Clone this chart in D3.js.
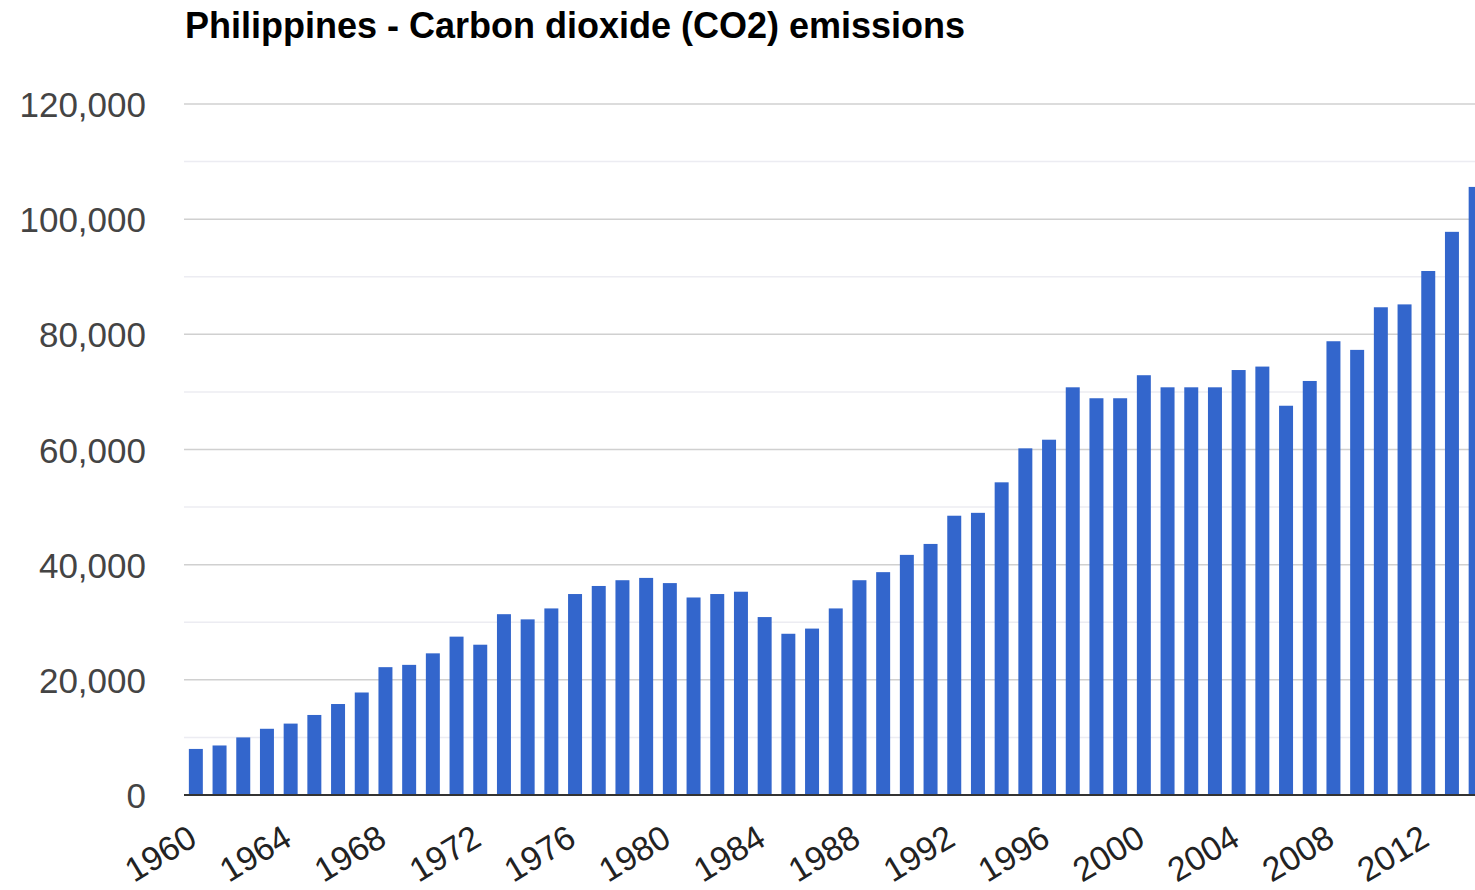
<!DOCTYPE html>
<html>
<head>
<meta charset="utf-8">
<script src="https://cdn.jsdelivr.net/npm/d3@7"></script>
<style>
  html, body { margin: 0; padding: 0; background: #fff; overflow: hidden; }
  svg { display: block; font-family: "Liberation Sans", Arial, Helvetica, sans-serif; }
</style>
</head>
<body>
<svg id="chart" width="1475" height="890"></svg>
<script>
// Philippines CO2 emissions (kt), 1960–2014
const years = d3.range(1960, 2015);
const emissions = [
  8000, 8600, 10000, 11500, 12400, 13900, 15800, 17800, 22200, 22600,
  24600, 27500, 26100, 31400, 30500, 32400, 34900, 36300, 37300, 37700,
  36800, 34300, 34900, 35300, 30900, 28000, 28900, 32400, 37300, 38700,
  41700, 43600, 48500, 49000, 54300, 60200, 61700, 70800, 68900, 68900,
  72900, 70800, 70800, 70800, 73800, 74400, 67600, 71900, 78800, 77300,
  84700, 85200, 91000, 97800, 105600
];
const yTicks = [0, 20000, 40000, 60000, 80000, 100000, 120000];
const yMinorTicks = [10000, 30000, 50000, 70000, 90000, 110000];
const xTickYears = d3.range(1960, 2015, 4);
const title = "Philippines - Carbon dioxide (CO2) emissions";

const data = years.map((y, i) => ({ year: y, value: emissions[i] }));

const svg = d3.select("#chart");
const plotLeft = 184, plotRight = 1475, plotTop = 104, plotBottom = 795;
const step = 23.7;

const x = d3.scaleBand()
  .domain(years)
  .range([plotLeft, plotLeft + step * years.length])
  .paddingInner(0.41)
  .paddingOuter(0.205);

const y = d3.scaleLinear()
  .domain([0, 120000])
  .range([plotBottom, plotTop]);

// Minor gridlines
svg.append("g")
  .selectAll("line")
  .data(yMinorTicks)
  .join("line")
  .attr("x1", plotLeft).attr("x2", plotRight)
  .attr("y1", d => y(d)).attr("y2", d => y(d))
  .attr("stroke", "#ececf2").attr("stroke-width", 1.5);

// Major gridlines
svg.append("g")
  .selectAll("line")
  .data(yTicks.filter(d => d > 0))
  .join("line")
  .attr("x1", plotLeft).attr("x2", plotRight)
  .attr("y1", d => y(d)).attr("y2", d => y(d))
  .attr("stroke", "#d0d0d0").attr("stroke-width", 1.5);

// Bars
svg.append("g")
  .selectAll("rect")
  .data(data)
  .join("rect")
  .attr("x", d => x(d.year))
  .attr("width", x.bandwidth())
  .attr("y", d => y(d.value))
  .attr("height", d => y(0) - y(d.value))
  .attr("fill", "#3366cc");

// Baseline
svg.append("line")
  .attr("x1", plotLeft).attr("x2", plotRight)
  .attr("y1", y(0)).attr("y2", y(0))
  .attr("stroke", "#333").attr("stroke-width", 2);

// Y axis labels
const yAxis = d3.axisLeft(y)
  .tickValues(yTicks)
  .tickFormat(d3.format(","))
  .tickSize(0)
  .tickPadding(0);
const gy = svg.append("g")
  .attr("transform", "translate(146,0)")
  .call(yAxis);
gy.select(".domain").remove();
gy.selectAll("text")
  .attr("font-size", 35)
  .attr("font-family", "\"Liberation Sans\", Arial, sans-serif")
  .attr("fill", "#444")
  .attr("dy", "0.36em");

// X axis labels, rotated
const xAxis = d3.axisBottom(x)
  .tickValues(xTickYears)
  .tickSize(0)
  .tickPadding(0);
const gx = svg.append("g")
  .attr("transform", `translate(0,${plotBottom})`)
  .call(xAxis);
gx.select(".domain").remove();
gx.selectAll(".tick text")
  .attr("font-size", 34)
  .attr("font-family", "\"Liberation Sans\", Arial, sans-serif")
  .attr("fill", "#222")
  .attr("text-anchor", "end")
  .attr("dy", null)
  .attr("y", 0)
  .attr("transform", "translate(3,49) rotate(-31)");

// Title
svg.append("text")
  .attr("x", 185)
  .attr("y", 38)
  .attr("font-size", 36)
  .attr("font-weight", "bold")
  .attr("fill", "#000")
  .text(title);
</script>
</body>
</html>
